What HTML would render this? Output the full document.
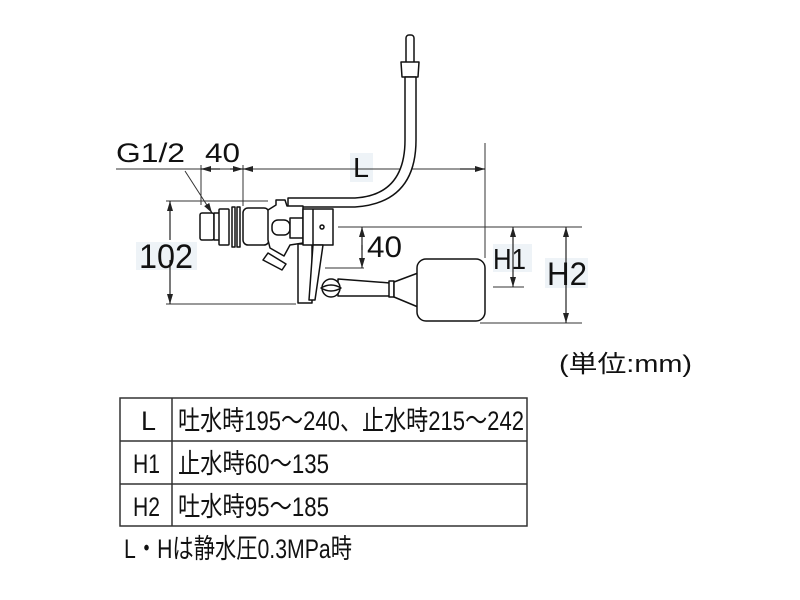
<!DOCTYPE html>
<html><head><meta charset="utf-8"><style>
body{margin:0;background:#fff;width:800px;height:600px;overflow:hidden;font-family:"Liberation Sans","Noto Sans CJK JP",sans-serif;}
svg{position:absolute;left:0;top:0}
.t{font-family:"Liberation Sans","Noto Sans CJK JP",sans-serif;fill:#111}
</style></head><body>
<svg width="800" height="600" viewBox="0 0 800 600">
<defs><marker id="a" markerWidth="10" markerHeight="6" refX="10" refY="3" orient="auto" markerUnits="userSpaceOnUse"><path d="M0,0 L10,3 L0,6 z" fill="#222"/></marker></defs>
<rect x="350" y="153" width="23" height="29" fill="#eef3f7"/>
<rect x="136" y="242" width="61" height="28" fill="#eef3f7"/>
<rect x="493" y="244" width="39" height="28" fill="#eef3f7"/>
<rect x="545" y="258" width="43" height="30" fill="#eef3f7"/>
<g stroke="#333" stroke-width="1" fill="none">
<line x1="116" y1="169" x2="485" y2="169"/>
<line x1="201" y1="165" x2="201" y2="205"/>
<line x1="243" y1="165" x2="243" y2="206"/>
<line x1="485" y1="143" x2="485" y2="258"/>
<line x1="166" y1="201" x2="268" y2="201"/>
<line x1="166" y1="304" x2="296" y2="304"/>
<line x1="338" y1="227" x2="582" y2="227"/>
<line x1="325" y1="268" x2="364" y2="268"/>
<line x1="493" y1="287" x2="524" y2="287"/>
<line x1="480" y1="323" x2="582" y2="323"/>
<line x1="185" y1="171" x2="212" y2="213"/>
</g>
<g stroke="#222" stroke-width="1.2" fill="none">
<line x1="220" y1="169" x2="201" y2="169" marker-end="url(#a)"/>
<line x1="230" y1="169" x2="243" y2="169" marker-end="url(#a)"/>
<line x1="250" y1="169" x2="243" y2="169" marker-end="url(#a)"/>
<line x1="460" y1="169" x2="485" y2="169" marker-end="url(#a)"/>
<line x1="170" y1="240" x2="170" y2="201" marker-end="url(#a)"/>
<line x1="170" y1="260" x2="170" y2="304" marker-end="url(#a)"/>
<line x1="362" y1="250" x2="362" y2="227" marker-end="url(#a)"/>
<line x1="362" y1="245" x2="362" y2="268" marker-end="url(#a)"/>
<line x1="513" y1="257" x2="513" y2="227" marker-end="url(#a)"/>
<line x1="513" y1="257" x2="513" y2="287" marker-end="url(#a)"/>
<line x1="566" y1="275" x2="566" y2="227" marker-end="url(#a)"/>
<line x1="566" y1="275" x2="566" y2="323" marker-end="url(#a)"/>
<line x1="207" y1="205" x2="212" y2="213" marker-end="url(#a)"/>
</g>
<g stroke="#111" stroke-width="1.5" fill="#fff" stroke-linejoin="round">
<rect x="406" y="35" width="8" height="30" rx="3"/>
<path d="M401 62 L419 62 L418 77 L402 77 Z"/>
<path d="M405 77 L405 140 Q405 195 355 198 L288 198 L288 207 L355 207 Q416 203 416 140 L416 77 Z"/>
<rect x="200" y="213" width="14" height="27" rx="2"/>
<rect x="214" y="213" width="6" height="27"/>
<rect x="219" y="209" width="10" height="36" rx="1"/>
<rect x="232" y="207" width="3" height="40"/>
<rect x="237" y="207" width="3" height="40"/>
<rect x="243" y="208" width="26" height="37" rx="5"/>
<path d="M268 210 L276 205 L276 200 L285 200 L287 206 L303 206 L303 243 L290 245 L284 256 L270 248 L268 240 Z"/>
<path d="M268 253 L286 264 L282 270 L263 260 Z"/>
<rect x="272" y="220" width="18" height="15" rx="6"/>
<rect x="290" y="218" width="13" height="20"/>
<rect x="298" y="244" width="14" height="59"/>
<rect x="303" y="209" width="30" height="36"/>
<line x1="313" y1="209" x2="313" y2="245"/>
<path d="M313 245 L323 245 L315 300 L309 300 Z"/>
<path d="M338 279 L390 283 L390 296 L338 296 Z"/>
<rect x="389" y="281" width="5" height="16"/>
<path d="M394 282 L418 273 L418 307 L394 297 Z"/>
<rect x="417" y="259" width="68" height="62" rx="9"/>
<circle cx="331" cy="288" r="9"/>
<path d="M321 288 Q331 282 341 288 Q331 294 321 288 Z"/>
<circle cx="322" cy="227" r="2"/>
</g>
<g class="t">
<text x="116" y="162" font-size="27" textLength="69" lengthAdjust="spacingAndGlyphs">G1/2</text>
<text x="205" y="162" font-size="27" textLength="35" lengthAdjust="spacingAndGlyphs">40</text>
<text x="353" y="177" font-size="28" textLength="16" lengthAdjust="spacingAndGlyphs">L</text>
<text x="139" y="268" font-size="34" textLength="54" lengthAdjust="spacingAndGlyphs">102</text>
<text x="367" y="257" font-size="30" textLength="35" lengthAdjust="spacingAndGlyphs">40</text>
<text x="493" y="269" font-size="29" textLength="33" lengthAdjust="spacingAndGlyphs">H1</text>
<text x="547" y="285" font-size="32" textLength="40" lengthAdjust="spacingAndGlyphs">H2</text>
</g>
<text class="t" x="559" y="372" font-size="24" textLength="133" lengthAdjust="spacingAndGlyphs">(単位:mm)</text>
<g stroke="#333" stroke-width="1.5" fill="none">
<rect x="120" y="398" width="407" height="128"/>
<line x1="120" y1="441" x2="527" y2="441"/>
<line x1="120" y1="484" x2="527" y2="484"/>
<line x1="172" y1="398" x2="172" y2="526"/>
</g>
<g class="t" font-size="27">
<text x="141" y="430" textLength="15" lengthAdjust="spacingAndGlyphs">L</text>
<text x="133" y="473" textLength="27" lengthAdjust="spacingAndGlyphs">H1</text>
<text x="133" y="516" textLength="27" lengthAdjust="spacingAndGlyphs">H2</text>
<text x="178" y="430" textLength="346" lengthAdjust="spacingAndGlyphs">吐水時195～240、止水時215～242</text>
<text x="178" y="473" textLength="151" lengthAdjust="spacingAndGlyphs">止水時60～135</text>
<text x="178" y="516" textLength="151" lengthAdjust="spacingAndGlyphs">吐水時95～185</text>
<text x="124" y="558" textLength="228" lengthAdjust="spacingAndGlyphs">L・Hは静水圧0.3MPa時</text>
</g>
</svg>
</body></html>
